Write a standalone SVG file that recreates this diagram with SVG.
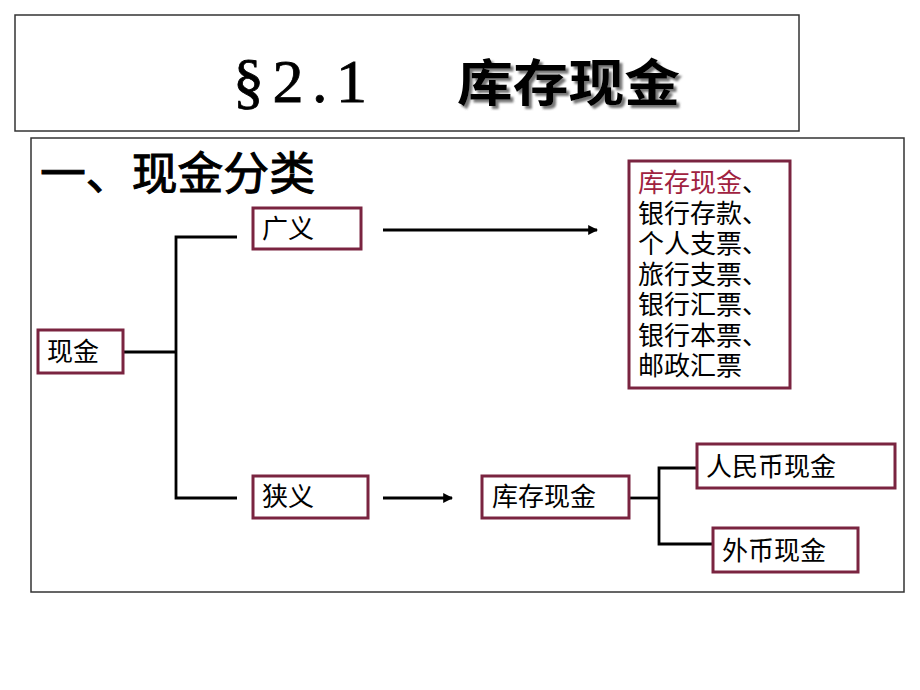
<svg xmlns="http://www.w3.org/2000/svg" width="920" height="690" viewBox="0 0 920 690">
  <defs>
    <style>
      .frame { fill: #ffffff; stroke: #333333; stroke-width: 1.5; }
      .box { fill: #ffffff; stroke: #7a2440; stroke-width: 3; }
      .line { fill: none; stroke: #000000; stroke-width: 2.8; }
      .t { font-family: "Liberation Sans", "Noto Sans CJK SC", sans-serif; font-size: 26px; fill: #000000; }
      .red { fill: #a0223f; }
    </style>
    <filter id="shadow" x="-10%" y="-10%" width="130%" height="130%">
      <feDropShadow dx="3" dy="3" stdDeviation="1.2" flood-color="#555555" flood-opacity="0.8"/>
    </filter>
    <marker id="arrow" viewBox="0 0 10 10" refX="9" refY="5" markerWidth="3.5" markerHeight="3.5" orient="auto" markerUnits="strokeWidth">
      <path d="M0,0 L10,5 L0,10 z" fill="#000000"/>
    </marker>
  </defs>

  <rect x="0" y="0" width="920" height="690" fill="#ffffff"/>

  <!-- title -->
  <g id="title">
    <rect class="frame" x="15" y="15" width="784" height="116"/>
    <text font-family="Liberation Serif, serif" font-size="62" x="233" y="102" fill="#000" stroke="#000" stroke-width="0.8" textLength="134" lengthAdjust="spacing">§2.1</text>
    <text font-family="Noto Sans CJK SC, sans-serif" font-size="50" font-weight="bold" x="457" y="101" textLength="223" lengthAdjust="spacingAndGlyphs" fill="#000" filter="url(#shadow)">库存现金</text>
  </g>

  <!-- content frame -->
  <g id="content-frame">
    <rect class="frame" x="31" y="138" width="873" height="454"/>
    <text font-family="Liberation Serif, Noto Sans CJK SC, serif" font-size="45" x="40" y="190" textLength="275" lengthAdjust="spacingAndGlyphs" fill="#000" stroke="#000" stroke-width="1">一、现金分类</text>
  </g>

  <!-- connectors -->
  <g id="connectors">
    <polyline class="line" points="123,352 176,352"/>
    <polyline class="line" points="237,237 176,237 176,498 237,498"/>
    <line class="line" x1="383" y1="230" x2="597" y2="230" marker-end="url(#arrow)"/>
    <line class="line" x1="383" y1="498" x2="452" y2="498" marker-end="url(#arrow)"/>
    <polyline class="line" points="629,498 659,498"/>
    <polyline class="line" points="697,468 659,468 659,544 713,544"/>
  </g>

  <g id="node-xianjin">
    <rect class="box" x="38" y="330" width="85" height="43"/>
    <text class="t" x="47" y="361">现金</text>
  </g>

  <g id="node-guangyi">
    <rect class="box" x="253" y="208" width="108" height="41"/>
    <text class="t" x="262" y="238">广义</text>
  </g>

  <g id="node-xiayi">
    <rect class="box" x="253" y="476" width="115" height="42"/>
    <text class="t" x="262" y="506">狭义</text>
  </g>

  <g id="node-list">
    <rect class="box" x="629" y="161" width="161" height="227"/>
    <text class="t" x="638" y="192"><tspan class="red">库存现金</tspan>、</text>
    <text class="t" x="638" y="222.5">银行存款、</text>
    <text class="t" x="638" y="253">个人支票、</text>
    <text class="t" x="638" y="283.5">旅行支票、</text>
    <text class="t" x="638" y="314">银行汇票、</text>
    <text class="t" x="638" y="344.5">银行本票、</text>
    <text class="t" x="638" y="375">邮政汇票</text>
  </g>

  <g id="node-kucun">
    <rect class="box" x="482" y="476" width="147" height="42"/>
    <text class="t" x="492" y="506">库存现金</text>
  </g>

  <g id="node-rmb">
    <rect class="box" x="697" y="444" width="198" height="44"/>
    <text class="t" x="706" y="476">人民币现金</text>
  </g>

  <g id="node-waibi">
    <rect class="box" x="713" y="528" width="145" height="44"/>
    <text class="t" x="722" y="560">外币现金</text>
  </g>
</svg>
